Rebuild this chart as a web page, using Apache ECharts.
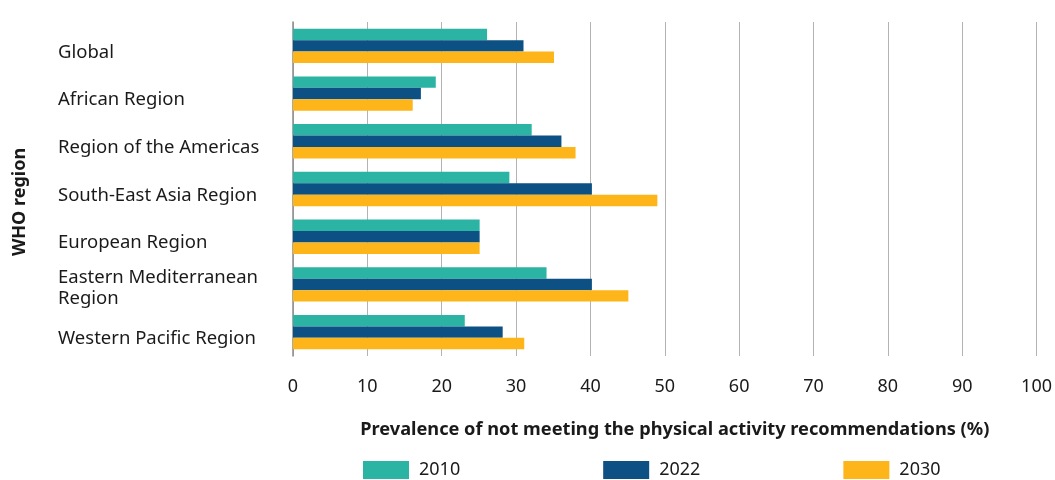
<!DOCTYPE html>
<html>
<head>
<meta charset="utf-8">
<script src="https://cdn.jsdelivr.net/npm/echarts@6/dist/echarts.min.js"></script>
<style>
  html, body { margin: 0; padding: 0; background: #fff; }
  #chart { width: 1055px; height: 480px; }
</style>
</head>
<body>
<div id="chart"></div>
<script>
// regions, top to bottom
const regions = [
  'Global',
  'African Region',
  'Region of the Americas',
  'South-East Asia Region',
  'European Region',
  'Eastern Mediterranean\nRegion',
  'Western Pacific Region'
];
const years = ['2010', '2022', '2030'];
const values2010 = [26.1, 19.2, 32.1, 29.1, 25.1, 34.1, 23.1];
const values2022 = [31.0, 17.2, 36.1, 40.2, 25.1, 40.2, 28.2];
const values2030 = [35.1, 16.1, 38.0, 49.0, 25.1, 45.1, 31.1];
const colors = ['#2bb3a3', '#0d5083', '#fdb519'];

const chart = echarts.init(document.getElementById('chart'));
const font = 'Noto Sans';

function bar(name, data, color) {
  return {
    name: name,
    type: 'bar',
    data: data,
    barGap: '0%',
    barCategoryGap: '28%',
    itemStyle: { color: color },
    animation: false
  };
}

// labels sit a little below the band centre in the original, so push them down with a blank first line
function regionLabel(v) {
  const lines = v.split('\n');
  const spacer = lines.length > 1 ? 's2' : 's1';
  return '{' + spacer + '| }\n' + lines.map(l => '{a|' + l + '}').join('\n');
}

chart.setOption({
  textStyle: { fontFamily: font, color: '#1a1a1a' },
  grid: { left: 293, right: 17, top: 22, height: 334 },
  legend: {
    left: 358,
    bottom: -4,
    itemWidth: 46,
    itemHeight: 18,
    itemGap: 143,
    icon: 'rect',
    data: years,
    textStyle: { fontFamily: font, fontSize: 18, color: '#1a1a1a', padding: [0, 0, 0, 5] }
  },
  xAxis: {
    type: 'value',
    min: 0,
    max: 100,
    interval: 10,
    name: 'Prevalence of not meeting the physical activity recommendations (%)',
    nameLocation: 'middle',
    nameGap: 65,
    nameTextStyle: { fontFamily: font, fontSize: 18.2, fontWeight: 'bold', color: '#1a1a1a', padding: [0, 0, 0, 20] },
    axisLine: { show: false },
    axisTick: { show: false },
    axisLabel: { fontSize: 18, color: '#1a1a1a', margin: 22 },
    splitLine: { lineStyle: { color: '#b3b3b3', width: 1 } }
  },
  yAxis: {
    type: 'category',
    inverse: true,
    data: regions,
    name: '{n|WHO region}{g| }',
    nameLocation: 'middle',
    nameRotate: 90,
    nameGap: 264,
    nameTextStyle: {
      rich: {
        n: { fontFamily: font, fontSize: 18, fontWeight: 'bold', color: '#1a1a1a' },
        g: { width: 26, fontSize: 1 }
      }
    },
    axisLine: { show: true, lineStyle: { color: '#8c8c8c', width: 1.5 } },
    axisTick: { show: false },
    axisLabel: {
      align: 'left',
      margin: 235,
      formatter: regionLabel,
      rich: {
        s1: { lineHeight: 13, fontSize: 1 },
        s2: { lineHeight: 8, fontSize: 1 },
        a: { fontFamily: font, fontSize: 18.5, lineHeight: 21, color: '#1a1a1a' }
      }
    }
  },
  series: [
    bar(years[0], values2010, colors[0]),
    bar(years[1], values2022, colors[1]),
    bar(years[2], values2030, colors[2])
  ]
});
</script>
</body>
</html>
